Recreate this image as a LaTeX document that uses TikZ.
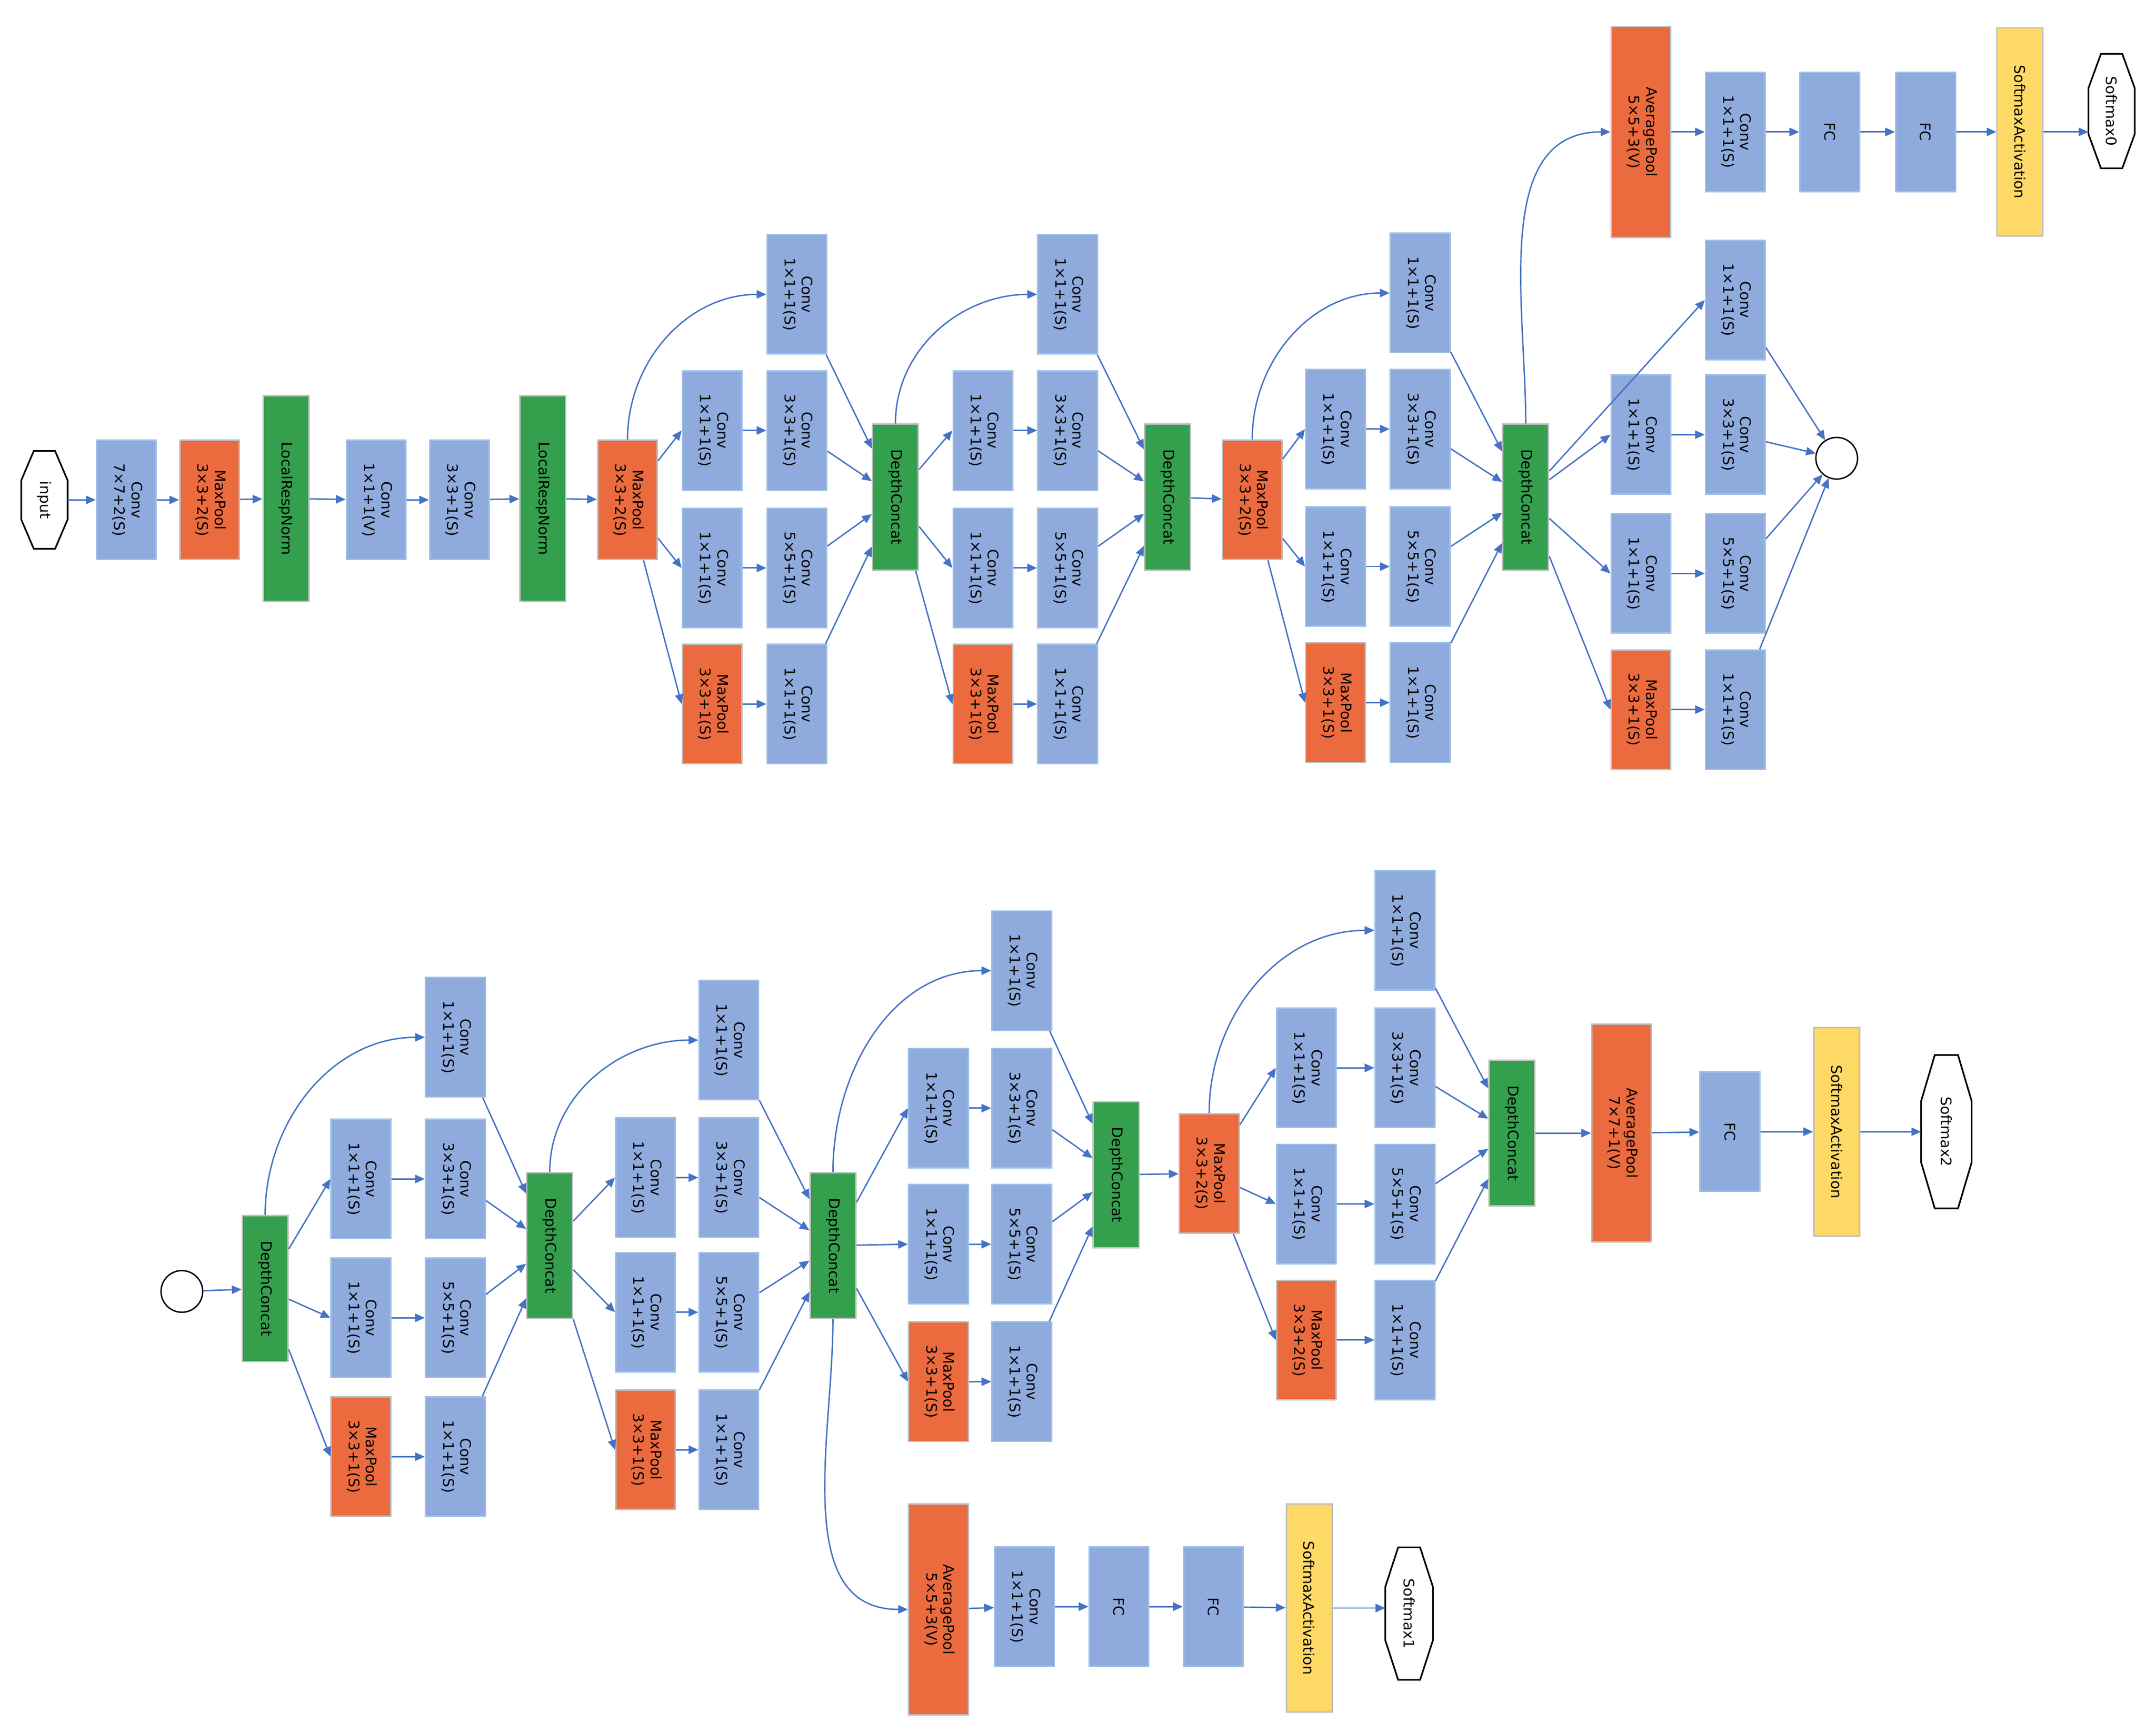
\documentclass[tikz,border=0pt]{standalone}
\usepackage{fontspec}
\setmainfont{DejaVu Sans}
\usetikzlibrary{arrows.meta,calc}
\definecolor{cblue}{HTML}{8FAADC}
\definecolor{cbord}{HTML}{9DC3E6}
\definecolor{corange}{HTML}{EB6A3E}
\definecolor{cgreen}{HTML}{34A04E}
\definecolor{cyellow}{HTML}{FFD966}
\definecolor{carrow}{HTML}{4472C4}
\newcommand\nd[6]{\node[#1] (#2) at (#3,-#4) {\rotatebox{-90}{\begin{tabular}{@{}c@{}}#5\\#6\end{tabular}}};}
\newcommand\ndo[5]{\node[#1] (#2) at (#3,-#4) {\rotatebox{-90}{#5}};}
\newcommand\octo[6]{\node[minimum width=#4,minimum height=#5,inner sep=0] (#1) at (#2,-#3) {\rotatebox{-90}{#6}};
 \draw[line width=1.2pt,fill=white] ($(#1.north west)!0.27!(#1.north east)$) -- ($(#1.north west)!0.73!(#1.north east)$) -- ($(#1.north east)!0.3!(#1.south east)$) -- ($(#1.north east)!0.7!(#1.south east)$) -- ($(#1.south west)!0.73!(#1.south east)$) -- ($(#1.south west)!0.27!(#1.south east)$) -- ($(#1.north west)!0.7!(#1.south west)$) -- ($(#1.north west)!0.3!(#1.south west)$) -- cycle;
 \node at (#1) {\rotatebox{-90}{#6}};}
\newcommand\incep[9]{%
 \nd{conv}{#2a}{#4}{#5}{Conv}{1×1+1(S)}
 \nd{conv}{#2b1}{#3}{#6}{Conv}{1×1+1(S)}
 \nd{conv}{#2b2}{#4}{#6}{Conv}{3×3+1(S)}
 \nd{conv}{#2c1}{#3}{#7}{Conv}{1×1+1(S)}
 \nd{conv}{#2c2}{#4}{#7}{Conv}{5×5+1(S)}
 \nd{pool}{#2d1}{#3}{#8}{MaxPool}{#9}
 \nd{conv}{#2d2}{#4}{#8}{Conv}{1×1+1(S)}
 \draw[arr] (#1) -- (#2b1.west);
 \draw[arr] (#1) -- (#2c1.west);
 \draw[arr] (#1) -- (#2d1.west);
 \draw[arr] (#2b1) -- (#2b2);
 \draw[arr] (#2c1) -- (#2c2);
 \draw[arr] (#2d1) -- (#2d2);}
\newcommand\outs[2]{\foreach \s in {a,b2,c2,d2}{\draw[arr] (#1\s) -- (#2);}}
\begin{document}
\begin{tikzpicture}[x=1pt,y=1pt,font=\fontsize{10.5}{12.5}\selectfont,
 box/.style={inner sep=0,line width=1pt},
 conv/.style={box,fill=cblue,draw=cbord,minimum width=43,minimum height=86},
 pool/.style={box,fill=corange,draw=black!25,minimum width=43,minimum height=86},
 dc/.style={box,fill=cgreen,draw=black!25,minimum width=33,minimum height=105},
 lrn/.style={box,fill=cgreen,draw=black!25,minimum width=33,minimum height=148},
 avg/.style={box,fill=corange,draw=black!25,minimum width=43,minimum height=152},
 sact/.style={box,fill=cyellow,draw=black!25,minimum width=33,minimum height=150},
 arr/.style={draw=carrow,line width=1pt,-{Triangle[length=7pt,width=6pt]}}]
\useasboundingbox (0,0) rectangle (1553,-1240);
% ---- top chain
\octo{in}{32}{360}{33}{70}{input}
\nd{conv}{cva}{91}{360}{Conv}{7×7+2(S)}
\nd{pool}{mp1}{151}{360}{MaxPool}{3×3+2(S)}
\ndo{lrn}{lrn1}{206}{359}{LocalRespNorm}
\nd{conv}{cvb}{271}{360}{Conv}{1×1+1(V)}
\nd{conv}{cvc}{331}{360}{Conv}{3×3+1(S)}
\ndo{lrn}{lrn2}{391}{359}{LocalRespNorm}
\nd{pool}{mp2}{452}{360}{MaxPool}{3×3+2(S)}
\draw[arr] (in) -- (cva); \draw[arr] (cva) -- (mp1); \draw[arr] (mp1) -- (lrn1);
\draw[arr] (lrn1) -- (cvb); \draw[arr] (cvb) -- (cvc); \draw[arr] (cvc) -- (lrn2);
\draw[arr] (lrn2) -- (mp2);
% module A
\incep{mp2}{A}{513}{574}{212}{310}{409}{507}{3×3+1(S)}
\draw[arr] (mp2.north) to[out=90,in=180] (Aa.west);
\ndo{dc}{dc1}{645}{358}{DepthConcat}
\outs{A}{dc1}
% module B
\incep{dc1}{B}{708}{769}{212}{310}{409}{507}{3×3+1(S)}
\draw[arr] (dc1.north) to[out=90,in=180] (Ba.west);
\ndo{dc}{dc2}{841}{358}{DepthConcat}
\outs{B}{dc2}
\nd{pool}{mp3}{902}{360}{MaxPool}{3×3+2(S)}
\draw[arr] (dc2) -- (mp3);
% module C
\incep{mp3}{C}{962}{1023}{211}{309}{408}{506}{3×3+1(S)}
\draw[arr] (mp3.north) to[out=90,in=180] (Ca.west);
\ndo{dc}{dc3}{1099}{358}{DepthConcat}
\outs{C}{dc3}
% module D
\incep{dc3}{D}{1182}{1250}{216}{313}{413}{511}{3×3+1(S)}
\draw[arr] (dc3) -- (Da.west);
\node[circle,draw,line width=1pt,minimum size=30,inner sep=0,fill=white] (c1) at (1323,-330) {};
\outs{D}{c1}
% aux 0
\nd{avg}{ap0}{1182}{95}{AveragePool}{5×5+3(V)}
\nd{conv}{cv0}{1250}{95}{Conv}{1×1+1(S)}
\ndo{conv}{fc0a}{1318}{95}{FC}
\ndo{conv}{fc0b}{1387}{95}{FC}
\ndo{sact}{sa0}{1455}{95}{SoftmaxActivation}
\octo{sm0}{1521}{80}{33}{82}{Softmax0}
\draw[arr] (dc3.north) to[out=90,in=180] (ap0.west);
\draw[arr] (ap0) -- (cv0); \draw[arr] (cv0) -- (fc0a); \draw[arr] (fc0a) -- (fc0b);
\draw[arr] (fc0b) -- (sa0); \draw[arr] (sa0.east) -- (sa0.east -| sm0.west);
% ---- bottom
\node[circle,draw,line width=1pt,minimum size=30,inner sep=0] (c2) at (131,-930) {};
\ndo{dc}{dc4}{191}{928}{DepthConcat}
\draw[arr] (c2) -- (dc4);
\incep{dc4}{E}{260}{328}{747}{849}{949}{1049}{3×3+1(S)}
\draw[arr] (dc4.north) to[out=90,in=180] (Ea.west);
\ndo{dc}{dc5}{396}{897}{DepthConcat}
\outs{E}{dc5}
\incep{dc5}{F}{465}{525}{749}{848}{945}{1044}{3×3+1(S)}
\draw[arr] (dc5.north) to[out=90,in=180] (Fa.west);
\ndo{dc}{dc6}{600}{897}{DepthConcat}
\outs{F}{dc6}
\incep{dc6}{G}{676}{736}{699}{798}{896}{995}{3×3+1(S)}
\draw[arr] (dc6.north) to[out=90,in=180] (Ga.west);
\ndo{dc}{dc7}{804}{846}{DepthConcat}
\outs{G}{dc7}
\nd{pool}{mp4}{871}{845}{MaxPool}{3×3+2(S)}
\draw[arr] (dc7) -- (mp4);
\incep{mp4}{H}{941}{1012}{670}{769}{867}{965}{3×3+2(S)}
\draw[arr] (mp4.north) to[out=90,in=180] (Ha.west);
\ndo{dc}{dc8}{1089}{816}{DepthConcat}
\outs{H}{dc8}
\node[avg,minimum height=157] (ap2) at (1168,-816) {\rotatebox{-90}{\begin{tabular}{@{}c@{}}AveragePool\\7×7+1(V)\end{tabular}}};
\ndo{conv}{fc2}{1246}{815}{FC}
\ndo{sact}{sa2}{1323}{815}{SoftmaxActivation}
\octo{sm2}{1402}{815}{36}{110}{Softmax2}
\draw[arr] (dc8) -- (ap2); \draw[arr] (ap2) -- (fc2); \draw[arr] (fc2) -- (sa2); \draw[arr] (sa2) -- (sm2.west);
% aux 1
\nd{avg}{ap1}{676}{1159}{AveragePool}{5×5+3(V)}
\nd{conv}{cv1}{738}{1157}{Conv}{1×1+1(S)}
\ndo{conv}{fc1a}{806}{1157}{FC}
\ndo{conv}{fc1b}{874}{1157}{FC}
\ndo{sact}{sa1}{943}{1158}{SoftmaxActivation}
\octo{sm1}{1015}{1162}{34}{95}{Softmax1}
\draw[arr] (dc6.south) to[out=-90,in=180] (ap1.west);
\draw[arr] (ap1) -- (cv1); \draw[arr] (cv1) -- (fc1a); \draw[arr] (fc1a) -- (fc1b);
\draw[arr] (fc1b) -- (sa1); \draw[arr] (sa1.east) -- (sa1.east -| sm1.west);
\end{tikzpicture}
\end{document}
